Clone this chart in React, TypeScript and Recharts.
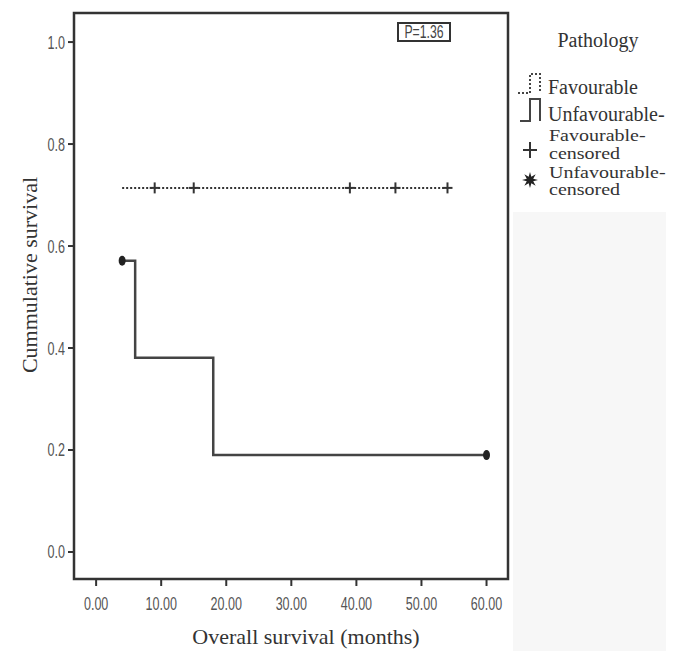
import {
  ComposedChart,
  Line,
  Scatter,
  XAxis,
  YAxis,
  ReferenceArea,
} from "recharts";

// Kaplan-Meier steps
const favTimes = [4, 54];
const favSurvival = [0.714, 0.714];
const favCensorTimes = [9, 15, 39, 46, 54];
const favCensorSurvival = [0.714, 0.714, 0.714, 0.714, 0.714];

const unfavTimes = [4, 6, 18, 60];
const unfavSurvival = [0.571, 0.381, 0.19, 0.19];
const unfavCensorTimes = [4, 60];
const unfavCensorSurvival = [0.571, 0.19];

const xTicks = [0, 10, 20, 30, 40, 50, 60];
const yTicks = [0, 0.2, 0.4, 0.6, 0.8, 1.0];
const X_DOMAIN: [number, number] = [-3.4, 63.3];
const Y_DOMAIN: [number, number] = [-0.053, 1.057];

const pValue = "P=1.36";

const zip = (t: number[], s: number[]) => t.map((v, i) => ({ t: v, s: s[i] }));

const favLine = zip(favTimes, favSurvival);
const unfavLine = zip(unfavTimes, unfavSurvival);
const favCensored = zip(favCensorTimes, favCensorSurvival);
const unfavCensored = zip(unfavCensorTimes, unfavCensorSurvival);

const SERIF = "Liberation Serif, serif";
const NARROW = "Liberation Sans, sans-serif";
const INK = "#333";

const serifStyle = (size: number) => ({ fontFamily: SERIF, fontSize: size });
const narrowStyle = (size: number) => ({ fontFamily: NARROW, fontSize: size });

function XTick({ x, y, payload }: any) {
  return (
    <g transform={`translate(${x},${y + 22}) scale(0.66,1)`}>
      <text textAnchor="middle" style={narrowStyle(19)} fill="#555">
        {Number(payload.value).toFixed(2)}
      </text>
    </g>
  );
}

function YTick({ x, y, payload }: any) {
  return (
    <g transform={`translate(${x - 1},${y + 6.5}) scale(0.7,1)`}>
      <text textAnchor="end" style={narrowStyle(18)} fill="#555">
        {Number(payload.value).toFixed(1)}
      </text>
    </g>
  );
}

const plusShape = ({ cx, cy }: any) => (
  <g stroke={INK} strokeWidth={2}>
    <line x1={cx - 5} y1={cy} x2={cx + 5} y2={cy} />
    <line x1={cx} y1={cy - 5.5} x2={cx} y2={cy + 5.5} />
  </g>
);

const blobShape = ({ cx, cy }: any) => (
  <ellipse cx={cx} cy={cy} rx={3.5} ry={5} fill="#222" />
);

function starPoints(cx: number, cy: number, r1: number, r2: number, n: number) {
  const pts: string[] = [];
  for (let i = 0; i < n * 2; i++) {
    const r = i % 2 === 0 ? r1 : r2;
    const a = (Math.PI * i) / n - Math.PI / 2;
    pts.push(`${cx + r * Math.cos(a)},${cy + r * Math.sin(a)}`);
  }
  return pts.join(" ");
}

// two-line legend label, squashed a little vertically like the original
function TwoLine({ x, y, lines }: { x: number; y: number; lines: string[] }) {
  const sy = 0.8;
  return (
    <g transform={`translate(${x},${y}) scale(1,${sy})`}>
      <text style={serifStyle(20)} fill={INK}>
        {lines.map((l, i) => (
          <tspan key={l} x={0} y={(i * 18) / sy}>
            {l}
          </tspan>
        ))}
      </text>
    </g>
  );
}

function Overlay() {
  return (
    <svg
      width={676}
      height={651}
      style={{ position: "absolute", left: 0, top: 0, pointerEvents: "none" }}
    >
      <rect x={513} y={212} width={153} height={439} fill="#f7f7f7" />

      {/* p-value box */}
      <rect x={398} y={23} width={52} height={18} fill="#fff" stroke={INK} strokeWidth={2} />
      <g transform="translate(424,37.5) scale(0.68,1)">
        <text textAnchor="middle" style={narrowStyle(18)} fill="#444">
          {pValue}
        </text>
      </g>

      {/* axis titles */}
      <text x={306} y={644} textAnchor="middle" style={serifStyle(22)} fill={INK}>
        Overall survival (months)
      </text>
      <text
        transform="translate(37,275) rotate(-90)"
        textAnchor="middle"
        style={serifStyle(22)}
        fill={INK}
      >
        Cummulative survival
      </text>

      {/* legend */}
      <text x={598} y={47} textAnchor="middle" style={serifStyle(20)} fill={INK}>
        Pathology
      </text>
      <path
        d="M518 93 H530 V74 H540 V93"
        fill="none"
        stroke="#444"
        strokeWidth={2}
        strokeDasharray="2 2"
      />
      <text x={548} y={94} style={serifStyle(20)} fill={INK}>
        Favourable
      </text>
      <path d="M520 121 H530 V99 H540 V121" fill="none" stroke="#444" strokeWidth={2} />
      <text x={548} y={121} style={serifStyle(20)} fill={INK}>
        Unfavourable-
      </text>
      <g stroke={INK} strokeWidth={2}>
        <line x1={523} y1={150} x2={537} y2={150} />
        <line x1={530} y1={142} x2={530} y2={158} />
      </g>
      <TwoLine x={549} y={141} lines={["Favourable-", "censored"]} />
      <polygon points={starPoints(530, 180, 8, 3.5, 8)} fill="#222" />
      <TwoLine x={549} y={177.5} lines={["Unfavourable-", "censored"]} />
    </svg>
  );
}

export default function App() {
  return (
    <div
      style={{
        position: "absolute",
        left: 0,
        top: 0,
        width: 676,
        height: 651,
        background: "#fff",
      }}
    >
      <ComposedChart
        width={676}
        height={651}
        margin={{ top: 13, right: 168, bottom: 0, left: 0 }}
      >
        <XAxis
          type="number"
          dataKey="t"
          domain={X_DOMAIN}
          ticks={xTicks}
          allowDataOverflow
          height={72}
          axisLine={false}
          tickLine={{ stroke: INK, strokeWidth: 2 }}
          tickSize={7}
          tick={<XTick />}
        />
        <YAxis
          type="number"
          dataKey="s"
          domain={Y_DOMAIN}
          ticks={yTicks}
          allowDataOverflow
          width={74}
          axisLine={false}
          tickLine={{ stroke: INK, strokeWidth: 2 }}
          tickSize={6}
          tick={<YTick />}
        />
        <ReferenceArea
          x1={X_DOMAIN[0]}
          x2={X_DOMAIN[1]}
          y1={Y_DOMAIN[0]}
          y2={Y_DOMAIN[1]}
          fill="none"
          stroke={INK}
          strokeWidth={2.5}
          ifOverflow="visible"
        />
        <Line
          data={favLine}
          dataKey="s"
          type="stepAfter"
          stroke={INK}
          strokeWidth={2}
          strokeDasharray="2 2"
          dot={false}
          isAnimationActive={false}
        />
        <Line
          data={unfavLine}
          dataKey="s"
          type="stepAfter"
          stroke="#444"
          strokeWidth={2.5}
          dot={false}
          isAnimationActive={false}
        />
        <Scatter
          data={favCensored}
          dataKey="s"
          shape={plusShape}
          isAnimationActive={false}
        />
        <Scatter
          data={unfavCensored}
          dataKey="s"
          shape={blobShape}
          isAnimationActive={false}
        />
      </ComposedChart>
      <Overlay />
    </div>
  );
}
